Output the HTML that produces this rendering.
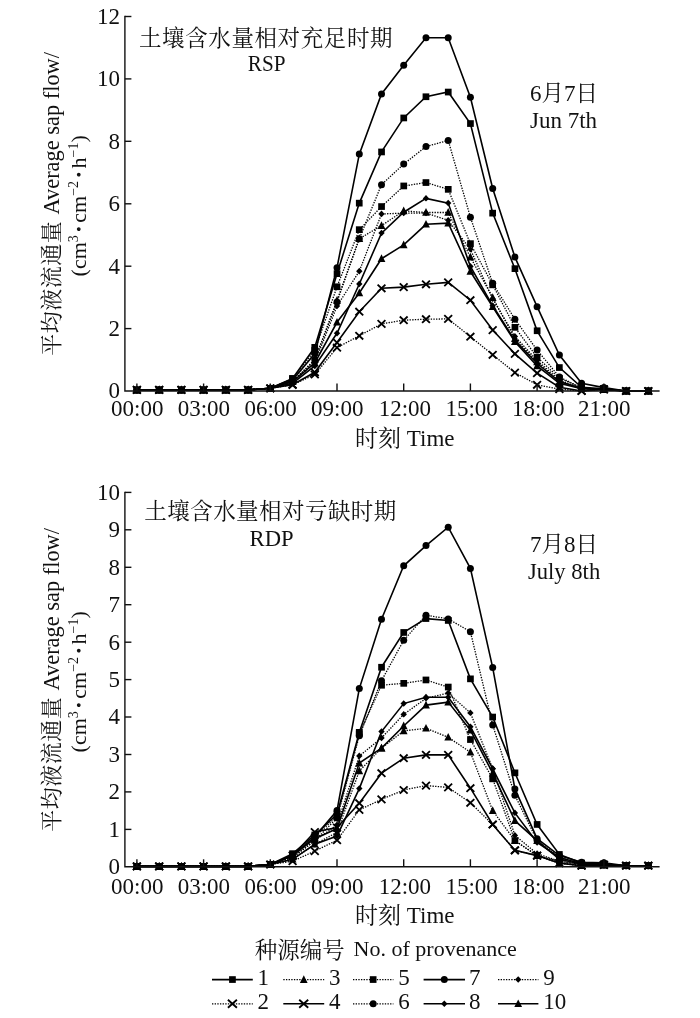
<!DOCTYPE html>
<html lang="zh"><head><meta charset="utf-8"><title>Average sap flow</title>
<style>
html,body{margin:0;padding:0;background:#fff}
svg{display:block;will-change:transform}
text{font-family:"Liberation Serif","Noto Serif CJK SC",serif;fill:#111}
.n{font-size:23px}
.t{font-size:23px}
.cj{font-family:"Noto Serif CJK SC","Liberation Serif",serif;font-size:22.5px}
.sup{font-size:14px}
.yt{font-size:22px}
.cj2{font-family:"Noto Serif CJK SC","Liberation Serif",serif;font-size:22px}
.dot{stroke:#111;stroke-width:1.3px}
.ls{fill:none;stroke:#000;stroke-width:1.6}
.ld{fill:none;stroke:#000;stroke-width:1.3;stroke-dasharray:1.35 1.3}
.xm{fill:none;stroke:#000;stroke-width:1.85}
.ax{fill:none;stroke:#111;stroke-width:1.4}
.tk{fill:none;stroke:#111;stroke-width:1.4}
</style></head><body>
<svg width="700" height="1018" viewBox="0 0 700 1018">
<rect width="700" height="1018" fill="#fff"/>
<polyline class="ld" points="136.9,389.9 159.2,389.9 181.4,389.9 203.6,389.9 225.9,389.9 248.1,389.9 270.3,388.3 292.6,384.8 314.8,374.5 337.0,347.6 359.3,335.8 381.5,323.9 403.7,320.2 426.0,319.2 448.2,318.9 470.4,336.7 492.7,354.8 514.9,372.6 537.1,384.8 559.4,389.1 581.6,391.0 603.9,389.4 626.1,391.0 648.3,391.0"/>
<g><path class="xm" d="M133.0 386.2L140.8 393.6M133.0 393.6L140.8 386.2"/><path class="xm" d="M155.3 386.2L163.1 393.6M155.3 393.6L163.1 386.2"/><path class="xm" d="M177.5 386.2L185.3 393.6M177.5 393.6L185.3 386.2"/><path class="xm" d="M199.7 386.2L207.5 393.6M199.7 393.6L207.5 386.2"/><path class="xm" d="M222.0 386.2L229.8 393.6M222.0 393.6L229.8 386.2"/><path class="xm" d="M244.2 386.2L252.0 393.6M244.2 393.6L252.0 386.2"/><path class="xm" d="M266.4 384.6L274.2 392.0M266.4 392.0L274.2 384.6"/><path class="xm" d="M288.7 381.1L296.5 388.5M288.7 388.5L296.5 381.1"/><path class="xm" d="M310.9 370.8L318.7 378.2M310.9 378.2L318.7 370.8"/><path class="xm" d="M333.1 343.9L340.9 351.3M333.1 351.3L340.9 343.9"/><path class="xm" d="M355.4 332.1L363.2 339.5M355.4 339.5L363.2 332.1"/><path class="xm" d="M377.6 320.2L385.4 327.6M377.6 327.6L385.4 320.2"/><path class="xm" d="M399.8 316.5L407.6 323.9M399.8 323.9L407.6 316.5"/><path class="xm" d="M422.1 315.5L429.9 322.9M422.1 322.9L429.9 315.5"/><path class="xm" d="M444.3 315.2L452.1 322.6M444.3 322.6L452.1 315.2"/><path class="xm" d="M466.5 333.0L474.3 340.4M466.5 340.4L474.3 333.0"/><path class="xm" d="M488.8 351.1L496.6 358.5M488.8 358.5L496.6 351.1"/><path class="xm" d="M511.0 368.9L518.8 376.3M511.0 376.3L518.8 368.9"/><path class="xm" d="M533.2 381.1L541.0 388.5M533.2 388.5L541.0 381.1"/><path class="xm" d="M555.5 385.4L563.3 392.8M555.5 392.8L563.3 385.4"/><path class="xm" d="M577.7 387.3L585.5 394.7M577.7 394.7L585.5 387.3"/><path class="xm" d="M600.0 385.7L607.8 393.1M600.0 393.1L607.8 385.7"/><path class="xm" d="M622.2 387.3L630.0 394.7M622.2 394.7L630.0 387.3"/><path class="xm" d="M644.4 387.3L652.2 394.7M644.4 394.7L652.2 387.3"/></g>
<polyline class="ld" points="136.9,389.9 159.2,389.9 181.4,389.9 203.6,389.9 225.9,389.9 248.1,389.9 270.3,388.3 292.6,381.6 314.8,359.8 337.0,300.5 359.3,238.7 381.5,225.6 403.7,210.9 426.0,212.5 448.2,212.5 470.4,257.1 492.7,297.7 514.9,338.6 537.1,362.0 559.4,381.6 581.6,388.5 603.9,389.4 626.1,391.0 648.3,391.0"/>
<g><path d="M136.9 385.5L140.8 393.2L133.0 393.2Z"/><path d="M159.2 385.5L163.1 393.2L155.3 393.2Z"/><path d="M181.4 385.5L185.3 393.2L177.5 393.2Z"/><path d="M203.6 385.5L207.5 393.2L199.7 393.2Z"/><path d="M225.9 385.5L229.8 393.2L222.0 393.2Z"/><path d="M248.1 385.5L252.0 393.2L244.2 393.2Z"/><path d="M270.3 383.9L274.2 391.6L266.4 391.6Z"/><path d="M292.6 377.2L296.5 384.9L288.7 384.9Z"/><path d="M314.8 355.4L318.7 363.1L310.9 363.1Z"/><path d="M337.0 296.1L340.9 303.8L333.1 303.8Z"/><path d="M359.3 234.3L363.2 242.0L355.4 242.0Z"/><path d="M381.5 221.2L385.4 228.9L377.6 228.9Z"/><path d="M403.7 206.5L407.6 214.2L399.8 214.2Z"/><path d="M426.0 208.1L429.9 215.8L422.1 215.8Z"/><path d="M448.2 208.1L452.1 215.8L444.3 215.8Z"/><path d="M470.4 252.7L474.3 260.4L466.5 260.4Z"/><path d="M492.7 293.3L496.6 301.0L488.8 301.0Z"/><path d="M514.9 334.2L518.8 341.9L511.0 341.9Z"/><path d="M537.1 357.6L541.0 365.3L533.2 365.3Z"/><path d="M559.4 377.2L563.3 384.9L555.5 384.9Z"/><path d="M581.6 384.1L585.5 391.8L577.7 391.8Z"/><path d="M603.9 385.0L607.8 392.7L600.0 392.7Z"/><path d="M626.1 386.6L630.0 394.3L622.2 394.3Z"/><path d="M648.3 386.6L652.2 394.3L644.4 394.3Z"/></g>
<polyline class="ld" points="136.9,389.9 159.2,389.9 181.4,389.9 203.6,389.9 225.9,389.9 248.1,389.9 270.3,388.3 292.6,381.6 314.8,362.9 337.0,306.1 359.3,271.2 381.5,214.0 403.7,213.1 426.0,213.1 448.2,220.3 470.4,249.3 492.7,298.9 514.9,336.4 537.1,360.4 559.4,380.1 581.6,388.5 603.9,389.4 626.1,391.0 648.3,391.0"/>
<g><path d="M136.9 386.5L140.1 389.9L136.9 393.1L133.7 389.9Z"/><path d="M159.2 386.5L162.4 389.9L159.2 393.1L156.0 389.9Z"/><path d="M181.4 386.5L184.6 389.9L181.4 393.1L178.2 389.9Z"/><path d="M203.6 386.5L206.8 389.9L203.6 393.1L200.4 389.9Z"/><path d="M225.9 386.5L229.1 389.9L225.9 393.1L222.7 389.9Z"/><path d="M248.1 386.5L251.3 389.9L248.1 393.1L244.9 389.9Z"/><path d="M270.3 384.9L273.5 388.3L270.3 391.5L267.1 388.3Z"/><path d="M292.6 378.2L295.8 381.6L292.6 384.8L289.4 381.6Z"/><path d="M314.8 359.5L318.0 362.9L314.8 366.1L311.6 362.9Z"/><path d="M337.0 302.7L340.2 306.1L337.0 309.3L333.8 306.1Z"/><path d="M359.3 267.8L362.5 271.2L359.3 274.4L356.1 271.2Z"/><path d="M381.5 210.6L384.7 214.0L381.5 217.2L378.3 214.0Z"/><path d="M403.7 209.7L406.9 213.1L403.7 216.3L400.5 213.1Z"/><path d="M426.0 209.7L429.2 213.1L426.0 216.3L422.8 213.1Z"/><path d="M448.2 216.9L451.4 220.3L448.2 223.5L445.0 220.3Z"/><path d="M470.4 245.9L473.6 249.3L470.4 252.5L467.2 249.3Z"/><path d="M492.7 295.5L495.9 298.9L492.7 302.1L489.5 298.9Z"/><path d="M514.9 333.0L518.1 336.4L514.9 339.6L511.7 336.4Z"/><path d="M537.1 357.0L540.3 360.4L537.1 363.6L533.9 360.4Z"/><path d="M559.4 376.7L562.6 380.1L559.4 383.3L556.2 380.1Z"/><path d="M581.6 385.1L584.8 388.5L581.6 391.7L578.4 388.5Z"/><path d="M603.9 386.0L607.1 389.4L603.9 392.6L600.7 389.4Z"/><path d="M626.1 387.6L629.3 391.0L626.1 394.2L622.9 391.0Z"/><path d="M648.3 387.6L651.5 391.0L648.3 394.2L645.1 391.0Z"/></g>
<polyline class="ld" points="136.9,389.9 159.2,389.9 181.4,389.9 203.6,389.9 225.9,389.9 248.1,389.9 270.3,388.3 292.6,378.5 314.8,350.4 337.0,286.8 359.3,229.7 381.5,206.6 403.7,186.0 426.0,182.5 448.2,189.4 470.4,243.7 492.7,284.9 514.9,327.3 537.1,357.3 559.4,378.2 581.6,387.9 603.9,389.4 626.1,391.0 648.3,391.0"/>
<g><rect x="133.6" y="386.6" width="6.7" height="6.7"/><rect x="155.8" y="386.6" width="6.7" height="6.7"/><rect x="178.0" y="386.6" width="6.7" height="6.7"/><rect x="200.3" y="386.6" width="6.7" height="6.7"/><rect x="222.5" y="386.6" width="6.7" height="6.7"/><rect x="244.7" y="386.6" width="6.7" height="6.7"/><rect x="267.0" y="385.0" width="6.7" height="6.7"/><rect x="289.2" y="375.2" width="6.7" height="6.7"/><rect x="311.4" y="347.1" width="6.7" height="6.7"/><rect x="333.7" y="283.4" width="6.7" height="6.7"/><rect x="355.9" y="226.3" width="6.7" height="6.7"/><rect x="378.2" y="203.2" width="6.7" height="6.7"/><rect x="400.4" y="182.6" width="6.7" height="6.7"/><rect x="422.6" y="179.2" width="6.7" height="6.7"/><rect x="444.9" y="186.0" width="6.7" height="6.7"/><rect x="467.1" y="240.3" width="6.7" height="6.7"/><rect x="489.3" y="281.5" width="6.7" height="6.7"/><rect x="511.6" y="324.0" width="6.7" height="6.7"/><rect x="533.8" y="353.9" width="6.7" height="6.7"/><rect x="556.0" y="374.9" width="6.7" height="6.7"/><rect x="578.3" y="384.5" width="6.7" height="6.7"/><rect x="600.5" y="386.1" width="6.7" height="6.7"/><rect x="622.7" y="387.6" width="6.7" height="6.7"/><rect x="645.0" y="387.6" width="6.7" height="6.7"/></g>
<polyline class="ld" points="136.9,389.9 159.2,389.9 181.4,389.9 203.6,389.9 225.9,389.9 248.1,389.9 270.3,388.3 292.6,381.6 314.8,359.8 337.0,302.1 359.3,238.7 381.5,184.7 403.7,164.1 426.0,146.6 448.2,140.4 470.4,217.2 492.7,283.3 514.9,319.2 537.1,350.1 559.4,377.0 581.6,387.9 603.9,389.4 626.1,391.0 648.3,391.0"/>
<g><circle cx="136.9" cy="389.9" r="3.5"/><circle cx="159.2" cy="389.9" r="3.5"/><circle cx="181.4" cy="389.9" r="3.5"/><circle cx="203.6" cy="389.9" r="3.5"/><circle cx="225.9" cy="389.9" r="3.5"/><circle cx="248.1" cy="389.9" r="3.5"/><circle cx="270.3" cy="388.3" r="3.5"/><circle cx="292.6" cy="381.6" r="3.5"/><circle cx="314.8" cy="359.8" r="3.5"/><circle cx="337.0" cy="302.1" r="3.5"/><circle cx="359.3" cy="238.7" r="3.5"/><circle cx="381.5" cy="184.7" r="3.5"/><circle cx="403.7" cy="164.1" r="3.5"/><circle cx="426.0" cy="146.6" r="3.5"/><circle cx="448.2" cy="140.4" r="3.5"/><circle cx="470.4" cy="217.2" r="3.5"/><circle cx="492.7" cy="283.3" r="3.5"/><circle cx="514.9" cy="319.2" r="3.5"/><circle cx="537.1" cy="350.1" r="3.5"/><circle cx="559.4" cy="377.0" r="3.5"/><circle cx="581.6" cy="387.9" r="3.5"/><circle cx="603.9" cy="389.4" r="3.5"/><circle cx="626.1" cy="391.0" r="3.5"/><circle cx="648.3" cy="391.0" r="3.5"/></g>
<polyline class="ls" points="136.9,389.9 159.2,389.9 181.4,389.9 203.6,389.9 225.9,389.9 248.1,389.9 270.3,388.3 292.6,384.8 314.8,372.3 337.0,342.6 359.3,311.7 381.5,288.3 403.7,287.1 426.0,284.3 448.2,282.4 470.4,300.2 492.7,330.1 514.9,353.9 537.1,373.2 559.4,387.3 581.6,391.0 603.9,389.4 626.1,391.0 648.3,391.0"/>
<g><path class="xm" d="M133.0 386.2L140.8 393.6M133.0 393.6L140.8 386.2"/><path class="xm" d="M155.3 386.2L163.1 393.6M155.3 393.6L163.1 386.2"/><path class="xm" d="M177.5 386.2L185.3 393.6M177.5 393.6L185.3 386.2"/><path class="xm" d="M199.7 386.2L207.5 393.6M199.7 393.6L207.5 386.2"/><path class="xm" d="M222.0 386.2L229.8 393.6M222.0 393.6L229.8 386.2"/><path class="xm" d="M244.2 386.2L252.0 393.6M244.2 393.6L252.0 386.2"/><path class="xm" d="M266.4 384.6L274.2 392.0M266.4 392.0L274.2 384.6"/><path class="xm" d="M288.7 381.1L296.5 388.5M288.7 388.5L296.5 381.1"/><path class="xm" d="M310.9 368.6L318.7 376.0M310.9 376.0L318.7 368.6"/><path class="xm" d="M333.1 338.9L340.9 346.3M333.1 346.3L340.9 338.9"/><path class="xm" d="M355.4 308.0L363.2 315.4M355.4 315.4L363.2 308.0"/><path class="xm" d="M377.6 284.6L385.4 292.0M377.6 292.0L385.4 284.6"/><path class="xm" d="M399.8 283.4L407.6 290.8M399.8 290.8L407.6 283.4"/><path class="xm" d="M422.1 280.6L429.9 288.0M422.1 288.0L429.9 280.6"/><path class="xm" d="M444.3 278.7L452.1 286.1M444.3 286.1L452.1 278.7"/><path class="xm" d="M466.5 296.5L474.3 303.9M466.5 303.9L474.3 296.5"/><path class="xm" d="M488.8 326.4L496.6 333.8M488.8 333.8L496.6 326.4"/><path class="xm" d="M511.0 350.2L518.8 357.6M511.0 357.6L518.8 350.2"/><path class="xm" d="M533.2 369.5L541.0 376.9M533.2 376.9L541.0 369.5"/><path class="xm" d="M555.5 383.6L563.3 391.0M555.5 391.0L563.3 383.6"/><path class="xm" d="M577.7 387.3L585.5 394.7M577.7 394.7L585.5 387.3"/><path class="xm" d="M600.0 385.7L607.8 393.1M600.0 393.1L607.8 385.7"/><path class="xm" d="M622.2 387.3L630.0 394.7M622.2 394.7L630.0 387.3"/><path class="xm" d="M644.4 387.3L652.2 394.7M644.4 394.7L652.2 387.3"/></g>
<polyline class="ls" points="136.9,389.9 159.2,389.9 181.4,389.9 203.6,389.9 225.9,389.9 248.1,389.9 270.3,388.3 292.6,381.6 314.8,362.9 337.0,322.3 359.3,293.0 381.5,258.7 403.7,244.9 426.0,224.3 448.2,223.1 470.4,271.5 492.7,306.7 514.9,341.7 537.1,366.0 559.4,383.2 581.6,388.8 603.9,389.4 626.1,391.0 648.3,391.0"/>
<g><path d="M136.9 385.5L140.8 393.2L133.0 393.2Z"/><path d="M159.2 385.5L163.1 393.2L155.3 393.2Z"/><path d="M181.4 385.5L185.3 393.2L177.5 393.2Z"/><path d="M203.6 385.5L207.5 393.2L199.7 393.2Z"/><path d="M225.9 385.5L229.8 393.2L222.0 393.2Z"/><path d="M248.1 385.5L252.0 393.2L244.2 393.2Z"/><path d="M270.3 383.9L274.2 391.6L266.4 391.6Z"/><path d="M292.6 377.2L296.5 384.9L288.7 384.9Z"/><path d="M314.8 358.5L318.7 366.2L310.9 366.2Z"/><path d="M337.0 317.9L340.9 325.6L333.1 325.6Z"/><path d="M359.3 288.6L363.2 296.3L355.4 296.3Z"/><path d="M381.5 254.3L385.4 262.0L377.6 262.0Z"/><path d="M403.7 240.5L407.6 248.2L399.8 248.2Z"/><path d="M426.0 219.9L429.9 227.6L422.1 227.6Z"/><path d="M448.2 218.7L452.1 226.4L444.3 226.4Z"/><path d="M470.4 267.1L474.3 274.8L466.5 274.8Z"/><path d="M492.7 302.3L496.6 310.0L488.8 310.0Z"/><path d="M514.9 337.3L518.8 345.0L511.0 345.0Z"/><path d="M537.1 361.6L541.0 369.3L533.2 369.3Z"/><path d="M559.4 378.8L563.3 386.5L555.5 386.5Z"/><path d="M581.6 384.4L585.5 392.1L577.7 392.1Z"/><path d="M603.9 385.0L607.8 392.7L600.0 392.7Z"/><path d="M626.1 386.6L630.0 394.3L622.2 394.3Z"/><path d="M648.3 386.6L652.2 394.3L644.4 394.3Z"/></g>
<polyline class="ls" points="136.9,389.9 159.2,389.9 181.4,389.9 203.6,389.9 225.9,389.9 248.1,389.9 270.3,388.3 292.6,383.2 314.8,366.0 337.0,333.3 359.3,284.0 381.5,233.1 403.7,212.2 426.0,198.4 448.2,203.1 470.4,266.5 492.7,305.8 514.9,340.4 537.1,363.5 559.4,381.6 581.6,388.5 603.9,389.4 626.1,391.0 648.3,391.0"/>
<g><path d="M136.9 386.5L140.1 389.9L136.9 393.1L133.7 389.9Z"/><path d="M159.2 386.5L162.4 389.9L159.2 393.1L156.0 389.9Z"/><path d="M181.4 386.5L184.6 389.9L181.4 393.1L178.2 389.9Z"/><path d="M203.6 386.5L206.8 389.9L203.6 393.1L200.4 389.9Z"/><path d="M225.9 386.5L229.1 389.9L225.9 393.1L222.7 389.9Z"/><path d="M248.1 386.5L251.3 389.9L248.1 393.1L244.9 389.9Z"/><path d="M270.3 384.9L273.5 388.3L270.3 391.5L267.1 388.3Z"/><path d="M292.6 379.8L295.8 383.2L292.6 386.4L289.4 383.2Z"/><path d="M314.8 362.6L318.0 366.0L314.8 369.2L311.6 366.0Z"/><path d="M337.0 329.9L340.2 333.3L337.0 336.5L333.8 333.3Z"/><path d="M359.3 280.6L362.5 284.0L359.3 287.2L356.1 284.0Z"/><path d="M381.5 229.7L384.7 233.1L381.5 236.3L378.3 233.1Z"/><path d="M403.7 208.8L406.9 212.2L403.7 215.4L400.5 212.2Z"/><path d="M426.0 195.0L429.2 198.4L426.0 201.6L422.8 198.4Z"/><path d="M448.2 199.7L451.4 203.1L448.2 206.3L445.0 203.1Z"/><path d="M470.4 263.1L473.6 266.5L470.4 269.7L467.2 266.5Z"/><path d="M492.7 302.4L495.9 305.8L492.7 309.0L489.5 305.8Z"/><path d="M514.9 337.0L518.1 340.4L514.9 343.6L511.7 340.4Z"/><path d="M537.1 360.1L540.3 363.5L537.1 366.7L533.9 363.5Z"/><path d="M559.4 378.2L562.6 381.6L559.4 384.8L556.2 381.6Z"/><path d="M581.6 385.1L584.8 388.5L581.6 391.7L578.4 388.5Z"/><path d="M603.9 386.0L607.1 389.4L603.9 392.6L600.7 389.4Z"/><path d="M626.1 387.6L629.3 391.0L626.1 394.2L622.9 391.0Z"/><path d="M648.3 387.6L651.5 391.0L648.3 394.2L645.1 391.0Z"/></g>
<polyline class="ls" points="136.9,389.9 159.2,389.9 181.4,389.9 203.6,389.9 225.9,389.9 248.1,389.9 270.3,388.3 292.6,378.5 314.8,347.3 337.0,273.7 359.3,203.1 381.5,151.9 403.7,117.9 426.0,96.7 448.2,92.0 470.4,123.5 492.7,213.1 514.9,268.7 537.1,330.8 559.4,367.6 581.6,387.3 603.9,388.7 626.1,391.0 648.3,391.0"/>
<g><rect x="133.6" y="386.6" width="6.7" height="6.7"/><rect x="155.8" y="386.6" width="6.7" height="6.7"/><rect x="178.0" y="386.6" width="6.7" height="6.7"/><rect x="200.3" y="386.6" width="6.7" height="6.7"/><rect x="222.5" y="386.6" width="6.7" height="6.7"/><rect x="244.7" y="386.6" width="6.7" height="6.7"/><rect x="267.0" y="385.0" width="6.7" height="6.7"/><rect x="289.2" y="375.2" width="6.7" height="6.7"/><rect x="311.4" y="344.0" width="6.7" height="6.7"/><rect x="333.7" y="270.3" width="6.7" height="6.7"/><rect x="355.9" y="199.8" width="6.7" height="6.7"/><rect x="378.2" y="148.6" width="6.7" height="6.7"/><rect x="400.4" y="114.6" width="6.7" height="6.7"/><rect x="422.6" y="93.4" width="6.7" height="6.7"/><rect x="444.9" y="88.7" width="6.7" height="6.7"/><rect x="467.1" y="120.2" width="6.7" height="6.7"/><rect x="489.3" y="209.8" width="6.7" height="6.7"/><rect x="511.6" y="265.3" width="6.7" height="6.7"/><rect x="533.8" y="327.4" width="6.7" height="6.7"/><rect x="556.0" y="364.2" width="6.7" height="6.7"/><rect x="578.3" y="383.9" width="6.7" height="6.7"/><rect x="600.5" y="385.3" width="6.7" height="6.7"/><rect x="622.7" y="387.6" width="6.7" height="6.7"/><rect x="645.0" y="387.6" width="6.7" height="6.7"/></g>
<polyline class="ls" points="136.9,389.9 159.2,389.9 181.4,389.9 203.6,389.9 225.9,389.9 248.1,389.9 270.3,388.3 292.6,380.1 314.8,353.6 337.0,267.7 359.3,154.1 381.5,93.9 403.7,65.2 426.0,37.7 448.2,37.7 470.4,97.3 492.7,188.5 514.9,257.1 537.1,306.7 559.4,355.1 581.6,383.2 603.9,387.6 626.1,391.0 648.3,391.0"/>
<g><circle cx="136.9" cy="389.9" r="3.5"/><circle cx="159.2" cy="389.9" r="3.5"/><circle cx="181.4" cy="389.9" r="3.5"/><circle cx="203.6" cy="389.9" r="3.5"/><circle cx="225.9" cy="389.9" r="3.5"/><circle cx="248.1" cy="389.9" r="3.5"/><circle cx="270.3" cy="388.3" r="3.5"/><circle cx="292.6" cy="380.1" r="3.5"/><circle cx="314.8" cy="353.6" r="3.5"/><circle cx="337.0" cy="267.7" r="3.5"/><circle cx="359.3" cy="154.1" r="3.5"/><circle cx="381.5" cy="93.9" r="3.5"/><circle cx="403.7" cy="65.2" r="3.5"/><circle cx="426.0" cy="37.7" r="3.5"/><circle cx="448.2" cy="37.7" r="3.5"/><circle cx="470.4" cy="97.3" r="3.5"/><circle cx="492.7" cy="188.5" r="3.5"/><circle cx="514.9" cy="257.1" r="3.5"/><circle cx="537.1" cy="306.7" r="3.5"/><circle cx="559.4" cy="355.1" r="3.5"/><circle cx="581.6" cy="383.2" r="3.5"/><circle cx="603.9" cy="387.6" r="3.5"/><circle cx="626.1" cy="391.0" r="3.5"/><circle cx="648.3" cy="391.0" r="3.5"/></g>
<path class="ax" d="M124.9 15.8V391.0H659.6"/>
<text class="n" x="120" y="398.4" text-anchor="end">0</text>
<path class="tk" d="M124.9 328.6h6.5"/>
<text class="n" x="120" y="336.0" text-anchor="end">2</text>
<path class="tk" d="M124.9 266.2h6.5"/>
<text class="n" x="120" y="273.6" text-anchor="end">4</text>
<path class="tk" d="M124.9 203.8h6.5"/>
<text class="n" x="120" y="211.2" text-anchor="end">6</text>
<path class="tk" d="M124.9 141.3h6.5"/>
<text class="n" x="120" y="148.7" text-anchor="end">8</text>
<path class="tk" d="M124.9 78.9h6.5"/>
<text class="n" x="120" y="86.3" text-anchor="end">10</text>
<path class="tk" d="M124.9 16.5h6.5"/>
<text class="n" x="120" y="23.9" text-anchor="end">12</text>
<path class="tk" d="M136.9 391.0v-7.5"/>
<text class="n" x="137.2" y="416.1" text-anchor="middle">00:00</text>
<path class="tk" d="M203.6 391.0v-7.5"/>
<text class="n" x="203.9" y="416.1" text-anchor="middle">03:00</text>
<path class="tk" d="M270.3 391.0v-7.5"/>
<text class="n" x="270.6" y="416.1" text-anchor="middle">06:00</text>
<path class="tk" d="M337.0 391.0v-7.5"/>
<text class="n" x="337.3" y="416.1" text-anchor="middle">09:00</text>
<path class="tk" d="M403.7 391.0v-7.5"/>
<text class="n" x="404.9" y="416.1" text-anchor="middle">12:00</text>
<path class="tk" d="M470.4 391.0v-7.5"/>
<text class="n" x="471.6" y="416.1" text-anchor="middle">15:00</text>
<path class="tk" d="M537.1 391.0v-7.5"/>
<text class="n" x="538.3" y="416.1" text-anchor="middle">18:00</text>
<path class="tk" d="M603.9 391.0v-7.5"/>
<text class="n" x="604.2" y="416.1" text-anchor="middle">21:00</text>
<polyline class="ld" points="136.9,866.4 159.2,866.4 181.4,866.4 203.6,866.4 225.9,866.4 248.1,866.4 270.3,864.5 292.6,861.2 314.8,851.1 337.0,840.2 359.3,809.9 381.5,799.4 403.7,790.0 426.0,785.6 448.2,787.4 470.4,802.8 492.7,824.5 514.9,850.3 537.1,855.6 559.4,863.1 581.6,865.7 603.9,864.9 626.1,865.7 648.3,865.7"/>
<g><path class="xm" d="M133.0 862.7L140.8 870.1M133.0 870.1L140.8 862.7"/><path class="xm" d="M155.3 862.7L163.1 870.1M155.3 870.1L163.1 862.7"/><path class="xm" d="M177.5 862.7L185.3 870.1M177.5 870.1L185.3 862.7"/><path class="xm" d="M199.7 862.7L207.5 870.1M199.7 870.1L207.5 862.7"/><path class="xm" d="M222.0 862.7L229.8 870.1M222.0 870.1L229.8 862.7"/><path class="xm" d="M244.2 862.7L252.0 870.1M244.2 870.1L252.0 862.7"/><path class="xm" d="M266.4 860.8L274.2 868.2M266.4 868.2L274.2 860.8"/><path class="xm" d="M288.7 857.5L296.5 864.9M288.7 864.9L296.5 857.5"/><path class="xm" d="M310.9 847.4L318.7 854.8M310.9 854.8L318.7 847.4"/><path class="xm" d="M333.1 836.5L340.9 843.9M333.1 843.9L340.9 836.5"/><path class="xm" d="M355.4 806.2L363.2 813.6M355.4 813.6L363.2 806.2"/><path class="xm" d="M377.6 795.7L385.4 803.1M377.6 803.1L385.4 795.7"/><path class="xm" d="M399.8 786.3L407.6 793.7M399.8 793.7L407.6 786.3"/><path class="xm" d="M422.1 781.9L429.9 789.3M422.1 789.3L429.9 781.9"/><path class="xm" d="M444.3 783.7L452.1 791.1M444.3 791.1L452.1 783.7"/><path class="xm" d="M466.5 799.1L474.3 806.5M466.5 806.5L474.3 799.1"/><path class="xm" d="M488.8 820.8L496.6 828.2M488.8 828.2L496.6 820.8"/><path class="xm" d="M511.0 846.6L518.8 854.0M511.0 854.0L518.8 846.6"/><path class="xm" d="M533.2 851.9L541.0 859.3M533.2 859.3L541.0 851.9"/><path class="xm" d="M555.5 859.4L563.3 866.8M555.5 866.8L563.3 859.4"/><path class="xm" d="M577.7 862.0L585.5 869.4M577.7 869.4L585.5 862.0"/><path class="xm" d="M600.0 861.2L607.8 868.6M600.0 868.6L607.8 861.2"/><path class="xm" d="M622.2 862.0L630.0 869.4M622.2 869.4L630.0 862.0"/><path class="xm" d="M644.4 862.0L652.2 869.4M644.4 869.4L652.2 862.0"/></g>
<polyline class="ld" points="136.9,866.4 159.2,866.4 181.4,866.4 203.6,866.4 225.9,866.4 248.1,866.4 270.3,864.5 292.6,859.3 314.8,844.3 337.0,832.4 359.3,771.0 381.5,748.1 403.7,730.9 426.0,728.3 448.2,737.3 470.4,752.2 492.7,810.6 514.9,840.6 537.1,855.6 559.4,863.1 581.6,865.7 603.9,864.9 626.1,865.7 648.3,865.7"/>
<g><path d="M136.9 862.0L140.8 869.7L133.0 869.7Z"/><path d="M159.2 862.0L163.1 869.7L155.3 869.7Z"/><path d="M181.4 862.0L185.3 869.7L177.5 869.7Z"/><path d="M203.6 862.0L207.5 869.7L199.7 869.7Z"/><path d="M225.9 862.0L229.8 869.7L222.0 869.7Z"/><path d="M248.1 862.0L252.0 869.7L244.2 869.7Z"/><path d="M270.3 860.1L274.2 867.8L266.4 867.8Z"/><path d="M292.6 854.9L296.5 862.6L288.7 862.6Z"/><path d="M314.8 839.9L318.7 847.6L310.9 847.6Z"/><path d="M337.0 828.0L340.9 835.7L333.1 835.7Z"/><path d="M359.3 766.6L363.2 774.3L355.4 774.3Z"/><path d="M381.5 743.7L385.4 751.4L377.6 751.4Z"/><path d="M403.7 726.5L407.6 734.2L399.8 734.2Z"/><path d="M426.0 723.9L429.9 731.6L422.1 731.6Z"/><path d="M448.2 732.9L452.1 740.6L444.3 740.6Z"/><path d="M470.4 747.8L474.3 755.5L466.5 755.5Z"/><path d="M492.7 806.2L496.6 813.9L488.8 813.9Z"/><path d="M514.9 836.2L518.8 843.9L511.0 843.9Z"/><path d="M537.1 851.2L541.0 858.9L533.2 858.9Z"/><path d="M559.4 858.7L563.3 866.4L555.5 866.4Z"/><path d="M581.6 861.3L585.5 869.0L577.7 869.0Z"/><path d="M603.9 860.5L607.8 868.2L600.0 868.2Z"/><path d="M626.1 861.3L630.0 869.0L622.2 869.0Z"/><path d="M648.3 861.3L652.2 869.0L644.4 869.0Z"/></g>
<polyline class="ld" points="136.9,866.4 159.2,866.4 181.4,866.4 203.6,866.4 225.9,866.4 248.1,866.4 270.3,864.5 292.6,857.4 314.8,840.6 337.0,824.9 359.3,756.0 381.5,738.0 403.7,714.4 426.0,698.3 448.2,693.1 470.4,712.9 492.7,768.7 514.9,835.4 537.1,853.7 559.4,861.2 581.6,864.6 603.9,864.9 626.1,865.7 648.3,865.7"/>
<g><path d="M136.9 863.0L140.1 866.4L136.9 869.6L133.7 866.4Z"/><path d="M159.2 863.0L162.4 866.4L159.2 869.6L156.0 866.4Z"/><path d="M181.4 863.0L184.6 866.4L181.4 869.6L178.2 866.4Z"/><path d="M203.6 863.0L206.8 866.4L203.6 869.6L200.4 866.4Z"/><path d="M225.9 863.0L229.1 866.4L225.9 869.6L222.7 866.4Z"/><path d="M248.1 863.0L251.3 866.4L248.1 869.6L244.9 866.4Z"/><path d="M270.3 861.1L273.5 864.5L270.3 867.7L267.1 864.5Z"/><path d="M292.6 854.0L295.8 857.4L292.6 860.6L289.4 857.4Z"/><path d="M314.8 837.2L318.0 840.6L314.8 843.8L311.6 840.6Z"/><path d="M337.0 821.5L340.2 824.9L337.0 828.1L333.8 824.9Z"/><path d="M359.3 752.6L362.5 756.0L359.3 759.2L356.1 756.0Z"/><path d="M381.5 734.6L384.7 738.0L381.5 741.2L378.3 738.0Z"/><path d="M403.7 711.0L406.9 714.4L403.7 717.6L400.5 714.4Z"/><path d="M426.0 694.9L429.2 698.3L426.0 701.5L422.8 698.3Z"/><path d="M448.2 689.7L451.4 693.1L448.2 696.3L445.0 693.1Z"/><path d="M470.4 709.5L473.6 712.9L470.4 716.1L467.2 712.9Z"/><path d="M492.7 765.3L495.9 768.7L492.7 771.9L489.5 768.7Z"/><path d="M514.9 832.0L518.1 835.4L514.9 838.6L511.7 835.4Z"/><path d="M537.1 850.3L540.3 853.7L537.1 856.9L533.9 853.7Z"/><path d="M559.4 857.8L562.6 861.2L559.4 864.4L556.2 861.2Z"/><path d="M581.6 861.2L584.8 864.6L581.6 867.8L578.4 864.6Z"/><path d="M603.9 861.5L607.1 864.9L603.9 868.1L600.7 864.9Z"/><path d="M626.1 862.3L629.3 865.7L626.1 868.9L622.9 865.7Z"/><path d="M648.3 862.3L651.5 865.7L648.3 868.9L645.1 865.7Z"/></g>
<polyline class="ld" points="136.9,866.4 159.2,866.4 181.4,866.4 203.6,866.4 225.9,866.4 248.1,866.4 270.3,864.5 292.6,855.6 314.8,836.8 337.0,816.3 359.3,733.9 381.5,685.2 403.7,683.3 426.0,680.0 448.2,687.1 470.4,739.5 492.7,778.8 514.9,840.6 537.1,855.6 559.4,861.2 581.6,864.6 603.9,864.9 626.1,865.7 648.3,865.7"/>
<g><rect x="133.6" y="863.0" width="6.7" height="6.7"/><rect x="155.8" y="863.0" width="6.7" height="6.7"/><rect x="178.0" y="863.0" width="6.7" height="6.7"/><rect x="200.3" y="863.0" width="6.7" height="6.7"/><rect x="222.5" y="863.0" width="6.7" height="6.7"/><rect x="244.7" y="863.0" width="6.7" height="6.7"/><rect x="267.0" y="861.1" width="6.7" height="6.7"/><rect x="289.2" y="852.2" width="6.7" height="6.7"/><rect x="311.4" y="833.5" width="6.7" height="6.7"/><rect x="333.7" y="812.9" width="6.7" height="6.7"/><rect x="355.9" y="730.5" width="6.7" height="6.7"/><rect x="378.2" y="681.9" width="6.7" height="6.7"/><rect x="400.4" y="680.0" width="6.7" height="6.7"/><rect x="422.6" y="676.6" width="6.7" height="6.7"/><rect x="444.9" y="683.7" width="6.7" height="6.7"/><rect x="467.1" y="736.2" width="6.7" height="6.7"/><rect x="489.3" y="775.5" width="6.7" height="6.7"/><rect x="511.6" y="837.2" width="6.7" height="6.7"/><rect x="533.8" y="852.2" width="6.7" height="6.7"/><rect x="556.0" y="857.8" width="6.7" height="6.7"/><rect x="578.3" y="861.2" width="6.7" height="6.7"/><rect x="600.5" y="861.6" width="6.7" height="6.7"/><rect x="622.7" y="862.3" width="6.7" height="6.7"/><rect x="645.0" y="862.3" width="6.7" height="6.7"/></g>
<polyline class="ld" points="136.9,866.4 159.2,866.4 181.4,866.4 203.6,866.4 225.9,866.4 248.1,866.4 270.3,864.5 292.6,857.4 314.8,840.6 337.0,818.1 359.3,735.8 381.5,680.7 403.7,640.3 426.0,615.2 448.2,618.9 470.4,631.7 492.7,724.9 514.9,795.3 537.1,840.6 559.4,857.4 581.6,863.8 603.9,864.9 626.1,865.7 648.3,865.7"/>
<g><circle cx="136.9" cy="866.4" r="3.5"/><circle cx="159.2" cy="866.4" r="3.5"/><circle cx="181.4" cy="866.4" r="3.5"/><circle cx="203.6" cy="866.4" r="3.5"/><circle cx="225.9" cy="866.4" r="3.5"/><circle cx="248.1" cy="866.4" r="3.5"/><circle cx="270.3" cy="864.5" r="3.5"/><circle cx="292.6" cy="857.4" r="3.5"/><circle cx="314.8" cy="840.6" r="3.5"/><circle cx="337.0" cy="818.1" r="3.5"/><circle cx="359.3" cy="735.8" r="3.5"/><circle cx="381.5" cy="680.7" r="3.5"/><circle cx="403.7" cy="640.3" r="3.5"/><circle cx="426.0" cy="615.2" r="3.5"/><circle cx="448.2" cy="618.9" r="3.5"/><circle cx="470.4" cy="631.7" r="3.5"/><circle cx="492.7" cy="724.9" r="3.5"/><circle cx="514.9" cy="795.3" r="3.5"/><circle cx="537.1" cy="840.6" r="3.5"/><circle cx="559.4" cy="857.4" r="3.5"/><circle cx="581.6" cy="863.8" r="3.5"/><circle cx="603.9" cy="864.9" r="3.5"/><circle cx="626.1" cy="865.7" r="3.5"/><circle cx="648.3" cy="865.7" r="3.5"/></g>
<polyline class="ls" points="136.9,866.4 159.2,866.4 181.4,866.4 203.6,866.4 225.9,866.4 248.1,866.4 270.3,864.5 292.6,855.6 314.8,832.0 337.0,827.5 359.3,803.2 381.5,773.2 403.7,758.2 426.0,754.9 448.2,754.9 470.4,788.2 492.7,824.5 514.9,850.3 537.1,855.6 559.4,863.1 581.6,865.7 603.9,864.9 626.1,865.7 648.3,865.7"/>
<g><path class="xm" d="M133.0 862.7L140.8 870.1M133.0 870.1L140.8 862.7"/><path class="xm" d="M155.3 862.7L163.1 870.1M155.3 870.1L163.1 862.7"/><path class="xm" d="M177.5 862.7L185.3 870.1M177.5 870.1L185.3 862.7"/><path class="xm" d="M199.7 862.7L207.5 870.1M199.7 870.1L207.5 862.7"/><path class="xm" d="M222.0 862.7L229.8 870.1M222.0 870.1L229.8 862.7"/><path class="xm" d="M244.2 862.7L252.0 870.1M244.2 870.1L252.0 862.7"/><path class="xm" d="M266.4 860.8L274.2 868.2M266.4 868.2L274.2 860.8"/><path class="xm" d="M288.7 851.9L296.5 859.3M288.7 859.3L296.5 851.9"/><path class="xm" d="M310.9 828.3L318.7 835.7M310.9 835.7L318.7 828.3"/><path class="xm" d="M333.1 823.8L340.9 831.2M333.1 831.2L340.9 823.8"/><path class="xm" d="M355.4 799.5L363.2 806.9M355.4 806.9L363.2 799.5"/><path class="xm" d="M377.6 769.5L385.4 776.9M377.6 776.9L385.4 769.5"/><path class="xm" d="M399.8 754.5L407.6 761.9M399.8 761.9L407.6 754.5"/><path class="xm" d="M422.1 751.2L429.9 758.6M422.1 758.6L429.9 751.2"/><path class="xm" d="M444.3 751.2L452.1 758.6M444.3 758.6L452.1 751.2"/><path class="xm" d="M466.5 784.5L474.3 791.9M466.5 791.9L474.3 784.5"/><path class="xm" d="M488.8 820.8L496.6 828.2M488.8 828.2L496.6 820.8"/><path class="xm" d="M511.0 846.6L518.8 854.0M511.0 854.0L518.8 846.6"/><path class="xm" d="M533.2 851.9L541.0 859.3M533.2 859.3L541.0 851.9"/><path class="xm" d="M555.5 859.4L563.3 866.8M555.5 866.8L563.3 859.4"/><path class="xm" d="M577.7 862.0L585.5 869.4M577.7 869.4L585.5 862.0"/><path class="xm" d="M600.0 861.2L607.8 868.6M600.0 868.6L607.8 861.2"/><path class="xm" d="M622.2 862.0L630.0 869.4M622.2 869.4L630.0 862.0"/><path class="xm" d="M644.4 862.0L652.2 869.4M644.4 869.4L652.2 862.0"/></g>
<polyline class="ls" points="136.9,866.4 159.2,866.4 181.4,866.4 203.6,866.4 225.9,866.4 248.1,866.4 270.3,864.5 292.6,855.6 314.8,838.7 337.0,828.6 359.3,763.1 381.5,748.1 403.7,726.0 426.0,705.1 448.2,702.1 470.4,730.1 492.7,773.2 514.9,820.7 537.1,840.6 559.4,859.3 581.6,864.2 603.9,864.9 626.1,865.7 648.3,865.7"/>
<g><path d="M136.9 862.0L140.8 869.7L133.0 869.7Z"/><path d="M159.2 862.0L163.1 869.7L155.3 869.7Z"/><path d="M181.4 862.0L185.3 869.7L177.5 869.7Z"/><path d="M203.6 862.0L207.5 869.7L199.7 869.7Z"/><path d="M225.9 862.0L229.8 869.7L222.0 869.7Z"/><path d="M248.1 862.0L252.0 869.7L244.2 869.7Z"/><path d="M270.3 860.1L274.2 867.8L266.4 867.8Z"/><path d="M292.6 851.2L296.5 858.9L288.7 858.9Z"/><path d="M314.8 834.3L318.7 842.0L310.9 842.0Z"/><path d="M337.0 824.2L340.9 831.9L333.1 831.9Z"/><path d="M359.3 758.7L363.2 766.4L355.4 766.4Z"/><path d="M381.5 743.7L385.4 751.4L377.6 751.4Z"/><path d="M403.7 721.6L407.6 729.3L399.8 729.3Z"/><path d="M426.0 700.7L429.9 708.4L422.1 708.4Z"/><path d="M448.2 697.7L452.1 705.4L444.3 705.4Z"/><path d="M470.4 725.7L474.3 733.4L466.5 733.4Z"/><path d="M492.7 768.8L496.6 776.5L488.8 776.5Z"/><path d="M514.9 816.3L518.8 824.0L511.0 824.0Z"/><path d="M537.1 836.2L541.0 843.9L533.2 843.9Z"/><path d="M559.4 854.9L563.3 862.6L555.5 862.6Z"/><path d="M581.6 859.8L585.5 867.5L577.7 867.5Z"/><path d="M603.9 860.5L607.8 868.2L600.0 868.2Z"/><path d="M626.1 861.3L630.0 869.0L622.2 869.0Z"/><path d="M648.3 861.3L652.2 869.0L644.4 869.0Z"/></g>
<polyline class="ls" points="136.9,866.4 159.2,866.4 181.4,866.4 203.6,866.4 225.9,866.4 248.1,866.4 270.3,864.5 292.6,859.3 314.8,844.3 337.0,836.1 359.3,788.6 381.5,731.6 403.7,703.6 426.0,697.2 448.2,697.2 470.4,726.8 492.7,768.7 514.9,812.9 537.1,842.5 559.4,857.4 581.6,863.8 603.9,864.9 626.1,865.7 648.3,865.7"/>
<g><path d="M136.9 863.0L140.1 866.4L136.9 869.6L133.7 866.4Z"/><path d="M159.2 863.0L162.4 866.4L159.2 869.6L156.0 866.4Z"/><path d="M181.4 863.0L184.6 866.4L181.4 869.6L178.2 866.4Z"/><path d="M203.6 863.0L206.8 866.4L203.6 869.6L200.4 866.4Z"/><path d="M225.9 863.0L229.1 866.4L225.9 869.6L222.7 866.4Z"/><path d="M248.1 863.0L251.3 866.4L248.1 869.6L244.9 866.4Z"/><path d="M270.3 861.1L273.5 864.5L270.3 867.7L267.1 864.5Z"/><path d="M292.6 855.9L295.8 859.3L292.6 862.5L289.4 859.3Z"/><path d="M314.8 840.9L318.0 844.3L314.8 847.5L311.6 844.3Z"/><path d="M337.0 832.7L340.2 836.1L337.0 839.3L333.8 836.1Z"/><path d="M359.3 785.2L362.5 788.6L359.3 791.8L356.1 788.6Z"/><path d="M381.5 728.2L384.7 731.6L381.5 734.8L378.3 731.6Z"/><path d="M403.7 700.2L406.9 703.6L403.7 706.8L400.5 703.6Z"/><path d="M426.0 693.8L429.2 697.2L426.0 700.4L422.8 697.2Z"/><path d="M448.2 693.8L451.4 697.2L448.2 700.4L445.0 697.2Z"/><path d="M470.4 723.4L473.6 726.8L470.4 730.0L467.2 726.8Z"/><path d="M492.7 765.3L495.9 768.7L492.7 771.9L489.5 768.7Z"/><path d="M514.9 809.5L518.1 812.9L514.9 816.1L511.7 812.9Z"/><path d="M537.1 839.1L540.3 842.5L537.1 845.7L533.9 842.5Z"/><path d="M559.4 854.0L562.6 857.4L559.4 860.6L556.2 857.4Z"/><path d="M581.6 860.4L584.8 863.8L581.6 867.0L578.4 863.8Z"/><path d="M603.9 861.5L607.1 864.9L603.9 868.1L600.7 864.9Z"/><path d="M626.1 862.3L629.3 865.7L626.1 868.9L622.9 865.7Z"/><path d="M648.3 862.3L651.5 865.7L648.3 868.9L645.1 865.7Z"/></g>
<polyline class="ls" points="136.9,866.4 159.2,866.4 181.4,866.4 203.6,866.4 225.9,866.4 248.1,866.4 270.3,864.5 292.6,853.7 314.8,835.0 337.0,814.4 359.3,732.4 381.5,667.2 403.7,632.4 426.0,618.6 448.2,620.4 470.4,678.9 492.7,717.0 514.9,772.8 537.1,824.5 559.4,854.4 581.6,863.1 603.9,864.0 626.1,865.7 648.3,865.7"/>
<g><rect x="133.6" y="863.0" width="6.7" height="6.7"/><rect x="155.8" y="863.0" width="6.7" height="6.7"/><rect x="178.0" y="863.0" width="6.7" height="6.7"/><rect x="200.3" y="863.0" width="6.7" height="6.7"/><rect x="222.5" y="863.0" width="6.7" height="6.7"/><rect x="244.7" y="863.0" width="6.7" height="6.7"/><rect x="267.0" y="861.1" width="6.7" height="6.7"/><rect x="289.2" y="850.3" width="6.7" height="6.7"/><rect x="311.4" y="831.6" width="6.7" height="6.7"/><rect x="333.7" y="811.0" width="6.7" height="6.7"/><rect x="355.9" y="729.0" width="6.7" height="6.7"/><rect x="378.2" y="663.9" width="6.7" height="6.7"/><rect x="400.4" y="629.1" width="6.7" height="6.7"/><rect x="422.6" y="615.2" width="6.7" height="6.7"/><rect x="444.9" y="617.1" width="6.7" height="6.7"/><rect x="467.1" y="675.5" width="6.7" height="6.7"/><rect x="489.3" y="713.7" width="6.7" height="6.7"/><rect x="511.6" y="769.5" width="6.7" height="6.7"/><rect x="533.8" y="821.1" width="6.7" height="6.7"/><rect x="556.0" y="851.1" width="6.7" height="6.7"/><rect x="578.3" y="859.7" width="6.7" height="6.7"/><rect x="600.5" y="860.6" width="6.7" height="6.7"/><rect x="622.7" y="862.3" width="6.7" height="6.7"/><rect x="645.0" y="862.3" width="6.7" height="6.7"/></g>
<polyline class="ls" points="136.9,866.4 159.2,866.4 181.4,866.4 203.6,866.4 225.9,866.4 248.1,866.4 270.3,864.5 292.6,855.6 314.8,836.8 337.0,810.6 359.3,688.6 381.5,619.3 403.7,565.8 426.0,545.6 448.2,527.2 470.4,568.4 492.7,667.6 514.9,788.9 537.1,838.7 559.4,855.6 581.6,862.3 603.9,862.7 626.1,865.7 648.3,865.7"/>
<g><circle cx="136.9" cy="866.4" r="3.5"/><circle cx="159.2" cy="866.4" r="3.5"/><circle cx="181.4" cy="866.4" r="3.5"/><circle cx="203.6" cy="866.4" r="3.5"/><circle cx="225.9" cy="866.4" r="3.5"/><circle cx="248.1" cy="866.4" r="3.5"/><circle cx="270.3" cy="864.5" r="3.5"/><circle cx="292.6" cy="855.6" r="3.5"/><circle cx="314.8" cy="836.8" r="3.5"/><circle cx="337.0" cy="810.6" r="3.5"/><circle cx="359.3" cy="688.6" r="3.5"/><circle cx="381.5" cy="619.3" r="3.5"/><circle cx="403.7" cy="565.8" r="3.5"/><circle cx="426.0" cy="545.6" r="3.5"/><circle cx="448.2" cy="527.2" r="3.5"/><circle cx="470.4" cy="568.4" r="3.5"/><circle cx="492.7" cy="667.6" r="3.5"/><circle cx="514.9" cy="788.9" r="3.5"/><circle cx="537.1" cy="838.7" r="3.5"/><circle cx="559.4" cy="855.6" r="3.5"/><circle cx="581.6" cy="862.3" r="3.5"/><circle cx="603.9" cy="862.7" r="3.5"/><circle cx="626.1" cy="865.7" r="3.5"/><circle cx="648.3" cy="865.7" r="3.5"/></g>
<path class="ax" d="M124.9 491.7V866.8H659.6"/>
<text class="n" x="120" y="874.2" text-anchor="end">0</text>
<path class="tk" d="M124.9 829.4h6.5"/>
<text class="n" x="120" y="836.8" text-anchor="end">1</text>
<path class="tk" d="M124.9 791.9h6.5"/>
<text class="n" x="120" y="799.3" text-anchor="end">2</text>
<path class="tk" d="M124.9 754.5h6.5"/>
<text class="n" x="120" y="761.9" text-anchor="end">3</text>
<path class="tk" d="M124.9 717.0h6.5"/>
<text class="n" x="120" y="724.4" text-anchor="end">4</text>
<path class="tk" d="M124.9 679.6h6.5"/>
<text class="n" x="120" y="687.0" text-anchor="end">5</text>
<path class="tk" d="M124.9 642.2h6.5"/>
<text class="n" x="120" y="649.6" text-anchor="end">6</text>
<path class="tk" d="M124.9 604.7h6.5"/>
<text class="n" x="120" y="612.1" text-anchor="end">7</text>
<path class="tk" d="M124.9 567.3h6.5"/>
<text class="n" x="120" y="574.7" text-anchor="end">8</text>
<path class="tk" d="M124.9 529.8h6.5"/>
<text class="n" x="120" y="537.2" text-anchor="end">9</text>
<path class="tk" d="M124.9 492.4h6.5"/>
<text class="n" x="120" y="499.8" text-anchor="end">10</text>
<path class="tk" d="M136.9 866.8v-7.5"/>
<text class="n" x="137.2" y="894.0" text-anchor="middle">00:00</text>
<path class="tk" d="M203.6 866.8v-7.5"/>
<text class="n" x="203.9" y="894.0" text-anchor="middle">03:00</text>
<path class="tk" d="M270.3 866.8v-7.5"/>
<text class="n" x="270.6" y="894.0" text-anchor="middle">06:00</text>
<path class="tk" d="M337.0 866.8v-7.5"/>
<text class="n" x="337.3" y="894.0" text-anchor="middle">09:00</text>
<path class="tk" d="M403.7 866.8v-7.5"/>
<text class="n" x="404.9" y="894.0" text-anchor="middle">12:00</text>
<path class="tk" d="M470.4 866.8v-7.5"/>
<text class="n" x="471.6" y="894.0" text-anchor="middle">15:00</text>
<path class="tk" d="M537.1 866.8v-7.5"/>
<text class="n" x="538.3" y="894.0" text-anchor="middle">18:00</text>
<path class="tk" d="M603.9 866.8v-7.5"/>
<text class="n" x="604.2" y="894.0" text-anchor="middle">21:00</text>
<text class="yt" transform="translate(58.8 355.8) rotate(-90)"><tspan class="cj2" letter-spacing="0.5">平均液流通量</tspan></text><text class="yt" transform="translate(58.8 52.0) rotate(-90)" text-anchor="end" style="font-size:22.4px">Average sap flow/</text><text class="yt" transform="translate(86 205.8) rotate(-90)" text-anchor="middle">(cm<tspan class="sup" dy="-8.5">3</tspan><tspan class="dot" dy="8.5" dx="2.6">·</tspan><tspan dx="2.6">cm</tspan><tspan class="sup" dy="-8.5">−2</tspan><tspan class="dot" dy="8.5" dx="2.6">·</tspan><tspan dx="2.6">h</tspan><tspan class="sup" dy="-8.5">−1</tspan><tspan dy="8.5">)</tspan></text>
<text class="yt" transform="translate(58.8 831.8) rotate(-90)"><tspan class="cj2" letter-spacing="0.5">平均液流通量</tspan></text><text class="yt" transform="translate(58.8 528.0) rotate(-90)" text-anchor="end" style="font-size:22.4px">Average sap flow/</text><text class="yt" transform="translate(86 681.8) rotate(-90)" text-anchor="middle">(cm<tspan class="sup" dy="-8.5">3</tspan><tspan class="dot" dy="8.5" dx="2.6">·</tspan><tspan dx="2.6">cm</tspan><tspan class="sup" dy="-8.5">−2</tspan><tspan class="dot" dy="8.5" dx="2.6">·</tspan><tspan dx="2.6">h</tspan><tspan class="sup" dy="-8.5">−1</tspan><tspan dy="8.5">)</tspan></text>
<text class="t cj" x="139" y="46" letter-spacing="0.6">土壤含水量相对充足时期</text>
<text class="t" x="247.8" y="71.2" textLength="37.7" lengthAdjust="spacingAndGlyphs">RSP</text>
<text class="t" x="530" y="101"><tspan>6</tspan><tspan class="cj">月</tspan>7<tspan class="cj">日</tspan></text>
<text class="t" x="530" y="128">Jun 7th</text>
<text class="t" x="404.8" y="445.5" text-anchor="middle"><tspan class="cj" style="font-size:23px">时刻</tspan> Time</text>
<text class="t cj" x="144.3" y="518.5" letter-spacing="0.45">土壤含水量相对亏缺时期</text>
<text class="t" x="249.6" y="545.6" textLength="44" lengthAdjust="spacingAndGlyphs">RDP</text>
<text class="t" x="530" y="551.5"><tspan>7</tspan><tspan class="cj">月</tspan>8<tspan class="cj">日</tspan></text>
<text class="t" x="528" y="579" style="font-size:22.6px">July 8th</text>
<text class="t" x="404.8" y="923.3" text-anchor="middle"><tspan class="cj" style="font-size:23px">时刻</tspan> Time</text>
<text class="t cj" x="254.8" y="957.8">种源编号</text>
<text class="t" x="353.6" y="955.6" style="font-size:22px">No. of provenance</text>
<path class="ls" d="M212 979.6H252.8"/>
<rect x="229.1" y="976.2" width="6.7" height="6.7"/>
<text class="n" x="257.5" y="985.2">1</text>
<path class="ld" d="M283.3 979.6H324.2"/>
<path d="M303.8 975.2L307.6 982.9L299.9 982.9Z"/>
<text class="n" x="329.0" y="985.2">3</text>
<path class="ld" d="M353 979.6H393.4"/>
<rect x="369.8" y="976.2" width="6.7" height="6.7"/>
<text class="n" x="398.3" y="985.2">5</text>
<path class="ls" d="M423.6 979.6H465"/>
<circle cx="444.3" cy="979.6" r="3.5"/>
<text class="n" x="469.0" y="985.2">7</text>
<path class="ld" d="M498 979.6H538.4"/>
<path d="M518.2 976.2L521.4 979.6L518.2 982.8L515.0 979.6Z"/>
<text class="n" x="543.2" y="985.2">9</text>
<path class="ld" d="M212 1003.8H252.8"/>
<path class="xm" d="M227.9 999.8L236.9 1007.8M227.9 1007.8L236.9 999.8"/>
<text class="n" x="257.5" y="1009.4">2</text>
<path class="ls" d="M283.3 1003.8H324.2"/>
<path class="xm" d="M299.2 999.8L308.2 1007.8M299.2 1007.8L308.2 999.8"/>
<text class="n" x="329.0" y="1009.4">4</text>
<path class="ld" d="M353 1003.8H393.4"/>
<circle cx="373.2" cy="1003.8" r="3.5"/>
<text class="n" x="398.3" y="1009.4">6</text>
<path class="ls" d="M423.6 1003.8H465"/>
<path d="M444.3 1000.4L447.5 1003.8L444.3 1007.0L441.1 1003.8Z"/>
<text class="n" x="469.0" y="1009.4">8</text>
<path class="ls" d="M498 1003.8H538.4"/>
<path d="M518.2 999.4L522.1 1007.1L514.3 1007.1Z"/>
<text class="n" x="543.2" y="1009.4">10</text>
</svg>
</body></html>
